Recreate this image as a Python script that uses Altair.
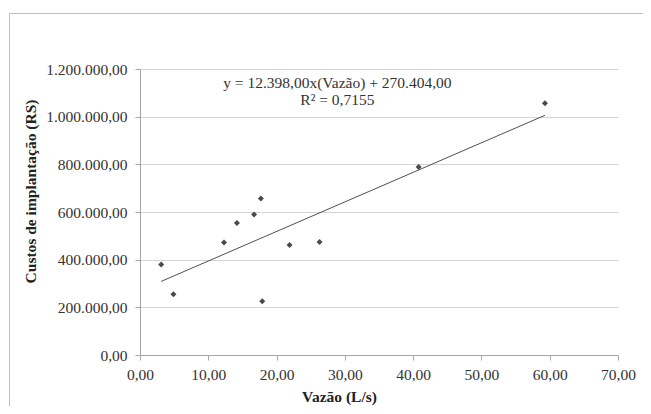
import altair as alt
import pandas as pd

# Data
vazao = [3.1, 4.9, 12.3, 14.2, 16.7, 17.7, 17.9, 21.9, 26.3, 40.8, 59.3]
custo = [379600, 255000, 471700, 554000, 589000, 657000, 226000, 462000, 474500, 788600, 1056500]

# Trend line as printed on the chart
slope = 12398.00
intercept = 270404.00
trend_x = [3.1, 59.3]

eq_lines = ["y = 12.398,00x(Vazão) + 270.404,00", "R² = 0,7155"]
eq_x = [28.9, 28.9]
eq_y = [1121000, 1049000]

x_ticks = [0, 10, 20, 30, 40, 50, 60, 70]
y_ticks = [0, 200000, 400000, 600000, 800000, 1000000, 1200000]

pts = pd.DataFrame({"x": vazao, "y": custo})
trend = pd.DataFrame({"x": trend_x, "y": [slope * v + intercept for v in trend_x]})
eq = pd.DataFrame({"t": eq_lines, "x": eq_x, "y": eq_y})

FONT = "Liberation Serif"
FS = 15.5

xscale = alt.Scale(domain=[0, 70], nice=False, zero=True)
yscale = alt.Scale(domain=[0, 1200000], nice=False)

xaxis = alt.Axis(
    values=x_ticks, format=",.2f", title="Vazão (L/s)", grid=False, labelFlush=False,
    tickSize=5, labelPadding=7, titleX=199, titleY=46, titleBaseline="alphabetic",
    titleAlign="center", titleAnchor="start",
)
yaxis = alt.Axis(
    values=y_ticks, format=",.2f", title="Custos de implantação (RS)", grid=True,
    labelFlush=False,
    tickSize=5, labelPadding=8, titleX=-105, titleY=122, titleAngle=270,
    titleBaseline="alphabetic", titleAlign="center", titleAnchor="start",
)

# frame of the chart area: top and left edges only (the right/bottom run off the picture)
frame_top = alt.Chart(pd.DataFrame({"a": [0]})).mark_rule(
    stroke="#c0c0c0", strokeWidth=1
).encode(x=alt.value(-130.5), x2=alt.value(520), y=alt.value(-55.5))
frame_left = alt.Chart(pd.DataFrame({"a": [0]})).mark_rule(
    stroke="#c0c0c0", strokeWidth=1
).encode(x=alt.value(-130.5), y=alt.value(-55.5), y2=alt.value(400))

points = alt.Chart(pts).mark_point(
    shape="diamond", filled=True, size=36, color="#4a4a4a", opacity=1
).encode(
    x=alt.X("x:Q", scale=xscale, axis=xaxis),
    y=alt.Y("y:Q", scale=yscale, axis=yaxis),
)

line = alt.Chart(trend).mark_line(color="#505050", strokeWidth=1).encode(
    x=alt.X("x:Q", scale=xscale), y=alt.Y("y:Q", scale=yscale)
)

text = alt.Chart(eq).mark_text(
    font=FONT, fontSize=FS, color="#333333", align="center", baseline="alphabetic"
).encode(
    x=alt.X("x:Q", scale=xscale), y=alt.Y("y:Q", scale=yscale), text="t:N"
)

chart = alt.layer(frame_top, frame_left, line, points, text).properties(
    width=478, height=286,
    autosize=alt.AutoSizeParams(type="none"),
    padding={"left": 132, "top": 61, "right": 25, "bottom": 51},
).configure_view(stroke=None).configure_axis(
    labelFont=FONT, labelFontSize=FS, labelColor="#333333",
    titleFont=FONT, titleFontSize=FS, titleFontWeight="bold", titleColor="#222222",
    domainColor="#a6a6a6", tickColor="#a6a6a6", gridColor="#d4d4d4",
    domainWidth=1, tickWidth=1, gridWidth=1,
)

chart.save(
    "out.html",
    embed_options={
        "renderer": "svg",
        "actions": False,
        "formatLocale": {
            "decimal": ",", "thousands": ".", "grouping": [3], "currency": ["R$", ""]
        },
    },
)
